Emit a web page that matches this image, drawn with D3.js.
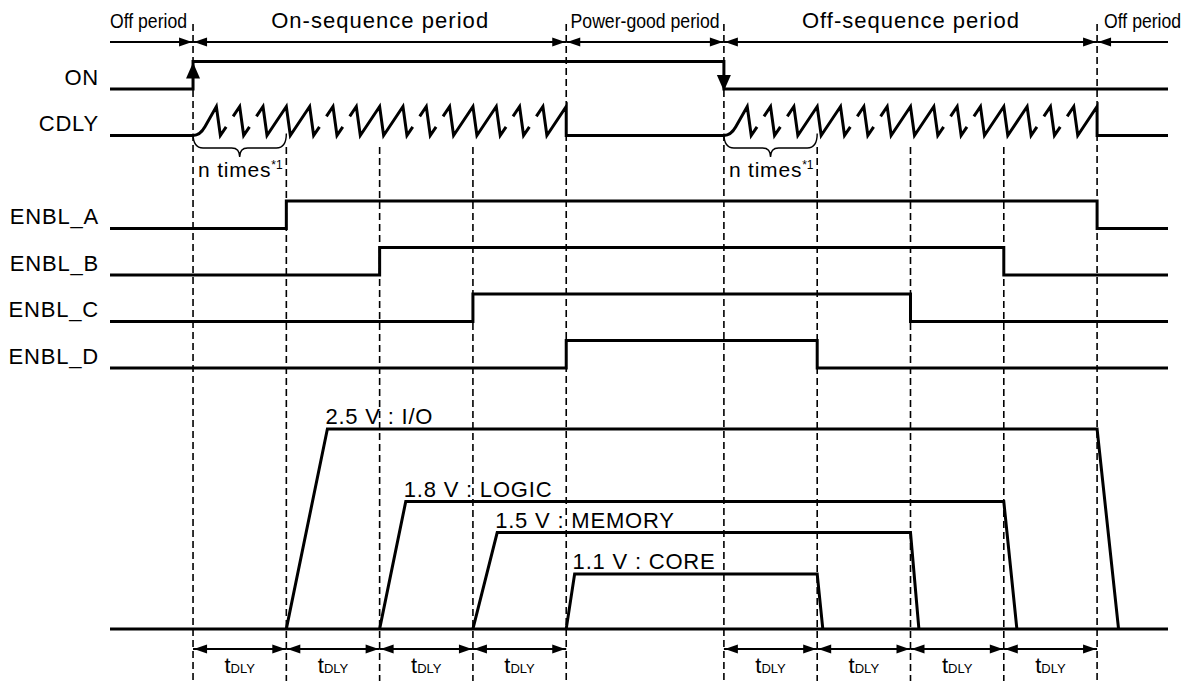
<!DOCTYPE html>
<html><head><meta charset="utf-8">
<script src="https://cdn.jsdelivr.net/npm/d3@7"></script>
<style>html,body{margin:0;padding:0;background:#fff;} svg{display:block;}</style>
</head><body><svg id="c" width="1196" height="681"></svg>
<script>
// ---------------- data (time in units of tDLY, t=0 at ON rising edge) ----------------
const periodNames  = ["Off period","On-sequence period","Power-good period","Off-sequence period","Off period"];
const periodBounds = [-0.89, 0, 4, 5.69, 9.69, 10.45];
const rowNames     = ["ON","CDLY","gap","ENBL_A","ENBL_B","ENBL_C","ENBL_D"];
const signalLabels = ["ON","CDLY","ENBL_A","ENBL_B","ENBL_C","ENBL_D"];
const onEdges      = [0, 5.69];
const enblNames    = ["ENBL_A","ENBL_B","ENBL_C","ENBL_D"];
const enblRise     = [1, 2, 3, 4];
const enblFall     = [9.69, 8.69, 7.69, 6.69];
const railNames    = ["2.5 V : I/O","1.8 V : LOGIC","1.5 V : MEMORY","1.1 V : CORE"];
const railLevels   = [2.5, 1.8, 1.5, 1.1];
const railRise     = [1, 2, 3, 4];
const railRiseTime = [0.44, 0.28, 0.26, 0.09];
const railFall     = [9.69, 8.69, 7.69, 6.69];
const railFallTime = [0.23, 0.14, 0.09, 0.06];
const groundLevel  = 0.57;
const cdlyBursts   = [0, 5.69];
const stepsPerBurst = 4;
const teethPerStep  = 4;
const brokenTooth   = [false, true, true, false];
const delaySteps    = [0, 1, 2, 3, 5.69, 6.69, 7.69, 8.69];
const periodMarks   = [0, 4, 5.69, 9.69];
const innerMarks    = [1, 2, 3, 6.69, 7.69, 8.69];
const braceStarts   = [0, 5.69];
const braceText     = "n times";
const braceNote     = "*1";

// ---------------- scales ----------------
const svg = d3.select("#c");
const FONT = "'Liberation Sans', Arial, Helvetica, sans-serif";
const x = d3.scaleLinear().domain([periodBounds[0], periodBounds[periodBounds.length-1]]).range([110, 1168]);
const rowY = d3.scalePoint().domain(rowNames).range([89, 368]);   // low level of each digital row
const HI = 27.5;                                                   // digital high swing
const vY = d3.scaleLinear().domain([1.1, 2.5]).range([574, 429]);  // rail level
const X0 = x.range()[0], X1 = x.range()[1];

const g = svg.append("g");

// ---------------- dashed guides ----------------
g.selectAll("line.pm").data(periodMarks).join("line")
  .attr("x1", d => x(d)).attr("x2", d => x(d)).attr("y1", 24).attr("y2", 681)
  .attr("stroke", "#000").attr("stroke-width", 1.6).attr("stroke-dasharray", "7,4");
g.selectAll("line.im").data(innerMarks).join("line")
  .attr("x1", d => x(d)).attr("x2", d => x(d)).attr("y1", 147).attr("y2", 681)
  .attr("stroke", "#000").attr("stroke-width", 1.6).attr("stroke-dasharray", "7,4");

// ---------------- arrow helper ----------------
function head(xt, y, dir, len, half) {
  g.append("path")
    .attr("d", `M${xt},${y}L${xt - dir*len},${y-half}L${xt - dir*len},${y+half}Z`)
    .attr("fill", "#000");
}
function dimArrow(xa, xb, y, left, right) {
  g.append("line").attr("x1", xa).attr("x2", xb).attr("y1", y).attr("y2", y)
    .attr("stroke", "#000").attr("stroke-width", 2);
  if (left) head(xa + 1, y, -1, 13, 4.5);
  if (right) head(xb - 1, y, 1, 13, 4.5);
}

// ---------------- header periods ----------------
const nP = periodNames.length;
periodNames.forEach((name, i) => {
  const a = x(periodBounds[i]), b = x(periodBounds[i+1]);
  dimArrow(a, b, 42, i > 0, i < nP - 1);
  const t = g.append("text").attr("y", 28).attr("font-family", FONT).attr("fill", "#000").text(name);
  if (i === 0) {
    t.attr("x", b - 6).attr("text-anchor", "end").attr("font-size", 21)
     .attr("textLength", 77).attr("lengthAdjust", "spacingAndGlyphs");
  } else if (i === nP - 1) {
    t.attr("x", a + 7).attr("text-anchor", "start").attr("font-size", 21)
     .attr("textLength", 77).attr("lengthAdjust", "spacingAndGlyphs");
  } else if (i === 2) {
    t.attr("x", (a + b) / 2).attr("text-anchor", "middle").attr("font-size", 21)
     .attr("textLength", 149).attr("lengthAdjust", "spacingAndGlyphs");
  } else {
    t.attr("x", (a + b) / 2).attr("text-anchor", "middle").attr("font-size", 22)
     .attr("textLength", 217).attr("lengthAdjust", "spacing");
  }
});

// ---------------- row labels ----------------
g.selectAll("text.lbl").data(signalLabels).join("text")
  .attr("x", 99).attr("y", d => rowY(d) - 4.5).attr("text-anchor", "end")
  .attr("font-family", FONT).attr("font-size", 22).attr("letter-spacing", 0.8)
  .text(d => d);

const wave = { fill: "none", stroke: "#000", "stroke-width": 3 };
function styleWave(sel) { Object.entries(wave).forEach(([k, v]) => sel.attr(k, v)); return sel; }

// ---------------- ON ----------------
{
  const lo = rowY("ON"), hi = lo - HI;
  styleWave(g.append("path").attr("d",
    `M${X0},${lo}H${x(onEdges[0])}V${hi}H${x(onEdges[1])}V${lo}H${X1}`));
  // edge arrows
  const xu = x(onEdges[0]), xd = x(onEdges[1]);
  g.append("path").attr("d", `M${xu},${hi+1}L${xu-7},${hi+17}L${xu+7},${hi+17}Z`).attr("fill", "#000");
  g.append("path").attr("d", `M${xd},${lo+2}L${xd-7},${lo-14}L${xd+7},${lo-14}Z`).attr("fill", "#000");
}

// ---------------- CDLY ----------------
{
  const lo = rowY("CDLY"), hi = lo - 29;
  const w = 1 / teethPerStep, dd = 4;
  let p = `M${X0},${lo}`;
  cdlyBursts.forEach(s => {
    const n = stepsPerBurst * teethPerStep;
    const x0 = x(s);
    p += `L${x0},${lo}`;
    for (let i = 0; i < n; i++) {
      const xp = x(s + (i + 1) * w);
      if (i === 0) {
        const xr = x0 + 7;
        const f = 0.3;
        const xm = xr + (xp - xr) * f, ym = lo - (lo - hi) * f;
        p += `Q${xr},${lo} ${xm},${ym}L${xp},${hi}`;
      } else {
        const xs = x(s + i * w) + dd;
        if (brokenTooth[i % teethPerStep]) {
          const f1 = 0.3, f2 = 0.66;
          p += `L${xs + (xp - xs) * f1},${lo - (lo - hi) * f1}` +
               `M${xs + (xp - xs) * f2},${lo - (lo - hi) * f2}L${xp},${hi}`;
        } else {
          p += `L${xp},${hi}`;
        }
      }
      p += (i === n - 1) ? `L${xp},${lo}` : `L${xp + dd},${lo}`;
    }
  });
  p += `L${X1},${lo}`;
  styleWave(g.append("path").attr("d", p));

  // braces + "n times*1"
  braceStarts.forEach(s => {
    const a = x(s), b = x(s + 1), c = (a + b) / 2, yb = 148;
    g.append("path")
      .attr("d", `M${a},${lo-2}Q${a},${yb} ${a+10},${yb}L${c-8},${yb}Q${c},${yb} ${c},${yb+9}` +
                 `Q${c},${yb} ${c+8},${yb}L${b-10},${yb}Q${b},${yb} ${b},${lo-2}`)
      .attr("fill", "none").attr("stroke", "#000").attr("stroke-width", 1.4);
    const t = g.append("text").attr("x", a + 5).attr("y", 177)
      .attr("font-family", FONT).attr("font-size", 21).attr("letter-spacing", 0.8);
    t.append("tspan").text(braceText);
    t.append("tspan").attr("font-size", 12).attr("dy", -8).attr("letter-spacing", 0).text(braceNote);
  });
}

// ---------------- ENBL ----------------
enblNames.forEach((n, i) => {
  const lo = rowY(n), hi = lo - HI;
  styleWave(g.append("path").attr("d",
    `M${X0},${lo}H${x(enblRise[i])}V${hi}H${x(enblFall[i])}V${lo}H${X1}`));
});

// ---------------- rails ----------------
const gy = vY(groundLevel);
styleWave(g.append("path").attr("d", `M${X0},${gy}H${X1}`));
railNames.forEach((n, i) => {
  const yl = vY(railLevels[i]);
  styleWave(g.append("path").attr("d",
    `M${x(railRise[i])},${gy}L${x(railRise[i] + railRiseTime[i])},${yl}` +
    `L${x(railFall[i])},${yl}L${x(railFall[i] + railFallTime[i])},${gy}`));
  g.append("text").attr("x", x(railRise[i] + railRiseTime[i]) - 2).attr("y", yl - 5)
    .attr("font-family", FONT).attr("font-size", 22).attr("letter-spacing", 0.8).text(n);
});

// ---------------- tDLY dimensions ----------------
delaySteps.forEach(d => {
  const a = x(d), b = x(d + 1);
  dimArrow(a, b, 649, true, true);
  const t = g.append("text").attr("x", (a + b) / 2).attr("y", 673).attr("text-anchor", "middle")
    .attr("font-family", FONT);
  t.append("tspan").attr("font-size", 22).text("t");
  t.append("tspan").attr("font-size", 13).text("DLY");
});
</script></body></html>
